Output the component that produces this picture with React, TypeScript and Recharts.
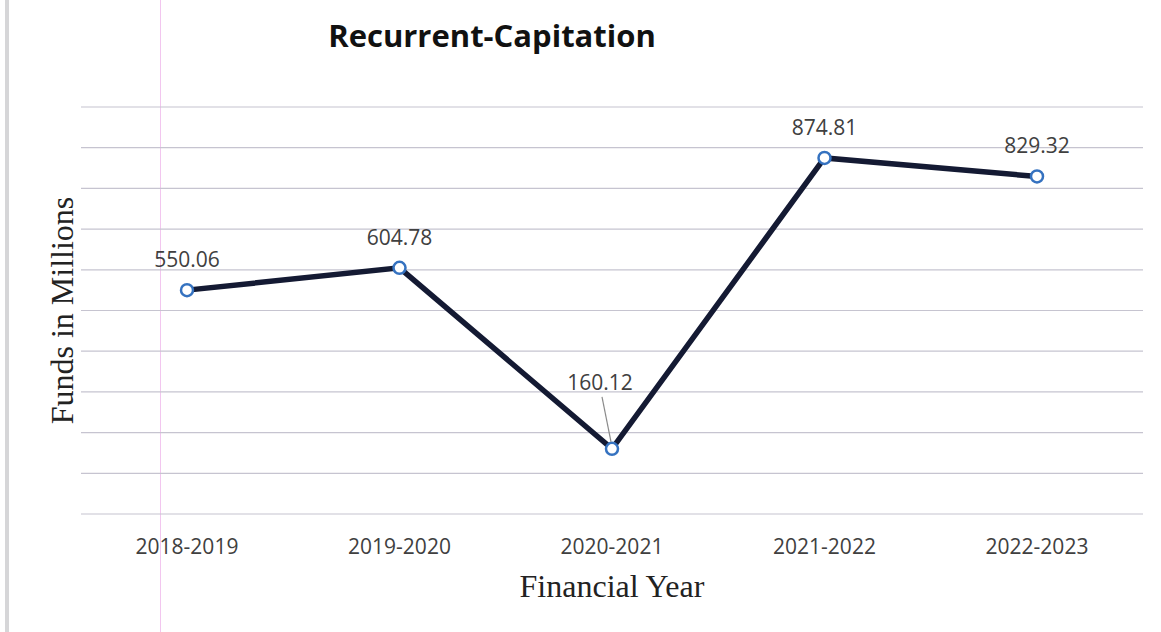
import React from "react";
import { LineChart, Line, XAxis, YAxis, CartesianGrid, LabelList, Label } from "recharts";

const years = ["2018-2019", "2019-2020", "2020-2021", "2021-2022", "2022-2023"];
const funds = [550.06, 604.78, 160.12, 874.81, 829.32];
const yTicks = [0, 100, 200, 300, 400, 500, 600, 700, 800, 900, 1000];

const data = years.map((year, i) => ({ year, funds: funds[i] }));

const W = 1161;
const H = 632;

const ValueLabel = (props: any) => {
  const { x, y, value, index } = props;
  // the dip label sits higher and to the left, with a leader line
  if (index === 2) {
    return (
      <g>
        <line x1={x - 10} y1={y - 52} x2={x - 1} y2={y - 7} stroke="#8a8a8a" strokeWidth={1.2} />
        <text x={x - 12} y={y - 59} textAnchor="middle" fill="#404040" fontSize={21} fontFamily="Open Sans">
          {value}
        </text>
      </g>
    );
  }
  return (
    <text x={x} y={y - 23} textAnchor="middle" fill="#404040" fontSize={21} fontFamily="Open Sans">
      {value}
    </text>
  );
};

export default function App() {
  return (
    <div style={{ position: "absolute", left: 0, top: 0, width: W, height: H, background: "#fff" }}>
      <div style={{ position: "absolute", left: 5, top: 0, width: 4, height: H, background: "#d6d6d8" }} />
      <div style={{ position: "absolute", left: 160, top: 0, width: 1, height: H, background: "#f2c6ef" }} />
      <div
        style={{
          position: "absolute",
          left: 0,
          width: 984,
          top: 14,
          textAlign: "center",
          fontFamily: "Open Sans",
          fontWeight: 700,
          fontSize: 31,
          color: "#111",
        }}
      >
        Recurrent-Capitation
      </div>
      <LineChart width={W} height={H} data={data} margin={{ top: 107, right: 18, bottom: 0, left: 0 }}>
        <CartesianGrid vertical={false} horizontalValues={yTicks} stroke="#c6c4d0" strokeWidth={1.2} />
        <XAxis
          dataKey="year"
          height={118}
          axisLine={false}
          tickLine={false}
          tickMargin={19}
          padding={{ left: 106, right: 106 }}
          tick={{ fill: "#404040", fontSize: 21, fontFamily: "Open Sans" }}
        >
          <Label
            value="Financial Year"
            position="insideBottom"
            offset={35}
            fill="#222"
            fontSize={32}
            fontFamily="Liberation Serif"
          />
        </XAxis>
        <YAxis
          width={81}
          domain={[0, 1000]}
          ticks={yTicks}
          tick={() => <g />}
          axisLine={false}
          tickLine={false}
        >
          <Label
            value="Funds in Millions"
            angle={-90}
            position="insideLeft"
            offset={62}
            fill="#222"
            fontSize={32}
            fontFamily="Liberation Serif"
            style={{ textAnchor: "middle" }}
          />
        </YAxis>
        <Line
          type="linear"
          dataKey="funds"
          stroke="#141a33"
          strokeWidth={5.5}
          dot={{ r: 6, fill: "#fff", stroke: "#3572c0", strokeWidth: 2.5 }}
          isAnimationActive={false}
        >
          <LabelList dataKey="funds" content={<ValueLabel />} />
        </Line>
      </LineChart>
    </div>
  );
}
